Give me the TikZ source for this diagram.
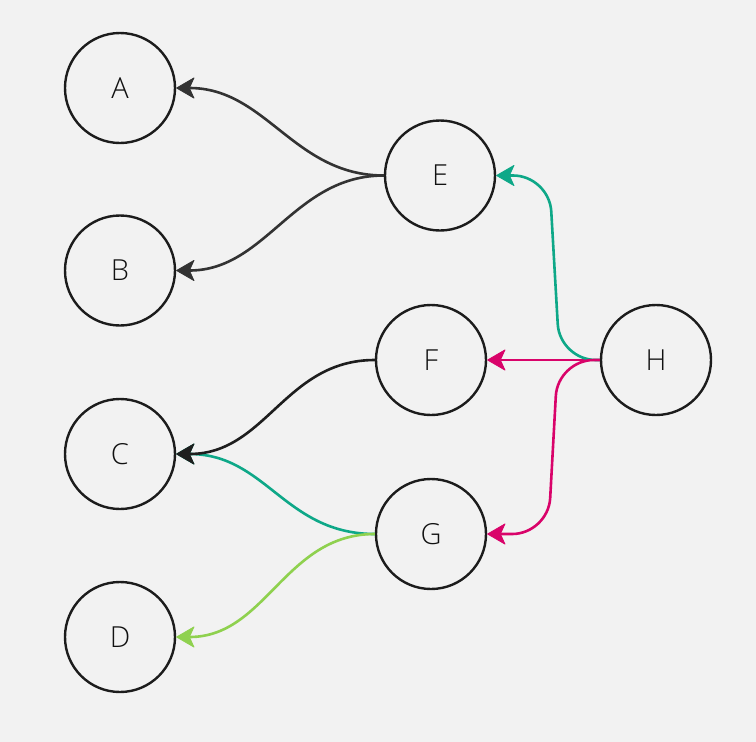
\documentclass[tikz,border=0pt]{standalone}
\usepackage{fontspec}
\setmainfont{Open Sans Light}
\usetikzlibrary{arrows.meta,calc}
\definecolor{bg}{HTML}{F2F2F2}
\definecolor{ringc}{HTML}{1C1C1C}
\definecolor{txtc}{HTML}{111111}
\definecolor{greyline}{HTML}{333333}
\definecolor{blackline}{HTML}{1E1E1E}
\definecolor{teal}{HTML}{0EA888}
\definecolor{magenta}{HTML}{D9036A}
\definecolor{lime}{HTML}{8FD14F}
\tikzset{
  vertex/.style={circle, draw=ringc, line width=2.4pt, minimum size=110pt, inner sep=0pt,
    text=txtc, font=\fontsize{29}{29}\selectfont, text height=20.7pt, text depth=0pt},
  edge/.style={line width=2.6pt, -{Stealth[length=19pt, width=22pt, inset=5pt, line width=0.8pt, round]}},
}
\begin{document}
\begin{tikzpicture}[x=1pt, y=-1pt]
\fill[bg] (0,0) rectangle (756,742);
\useasboundingbox (0,0) rectangle (756,742);

\node[vertex] (A) at (120,88) {A};
\node[vertex] (B) at (120,270.5) {B};
\node[vertex] (C) at (120,454) {C};
\node[vertex] (D) at (120,637) {D};
\node[vertex] (E) at (440,175.5) {E};
\node[vertex] (F) at (431,360) {F};
\node[vertex] (G) at (431,534) {G};
\node[vertex] (H) at (656,360) {H};

% E -> A, B
\draw[edge, greyline] (E.west) .. controls +(-90,0) and +(90,0) .. (A.east);
\draw[edge, greyline] (E.west) .. controls +(-90,0) and +(90,0) .. (B.east);
% G -> C (teal), G -> D (lime)
\draw[edge, teal] (G.west) .. controls +(-90,0) and +(90,0) .. (C.east);
\draw[edge, lime] (G.west) .. controls +(-90,0) and +(90,0) .. (D.east);
% F -> C
\draw[edge, blackline] (F.west) .. controls +(-90,0) and +(90,0) .. (C.east);
% H -> F
\draw[edge, magenta] (H.west) -- (F.east);
% H -> E
\draw[edge, teal, rounded corners=36pt] (H.west) -- ($(H.west)+(-40,0)$) -- ($(E.east)+(53,0)$) -- (E.east);
% H -> G
\draw[edge, magenta, rounded corners=36pt] (H.west) -- ($(H.west)+(-42,0)$) -- ($(G.east)+(61,0)$) -- (G.east);
\end{tikzpicture}
\end{document}
